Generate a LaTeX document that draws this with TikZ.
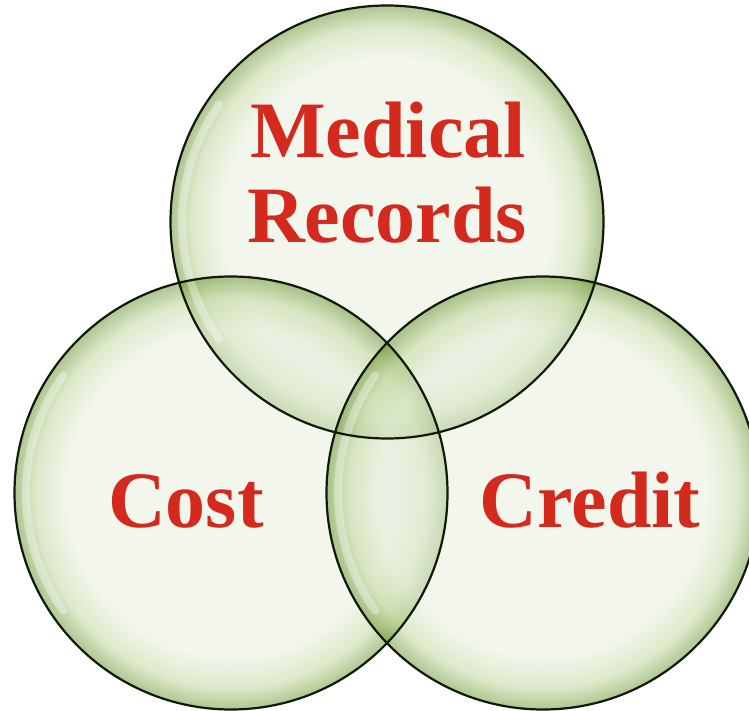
\documentclass[tikz,border=0pt]{standalone}
\usepackage{fontspec}
\setmainfont{Liberation Serif}
\definecolor{glassin}{RGB}{229,237,217}
\definecolor{glassmid}{RGB}{190,212,150}
\definecolor{glassout}{RGB}{95,140,35}
\definecolor{txtred}{RGB}{212,42,30}
\definecolor{rimline}{RGB}{18,24,10}
\pgfdeclareradialshading{glass}{\pgfpoint{0bp}{0bp}}{color(0bp)=(glassin); color(19bp)=(glassin); color(22.5bp)=(glassmid); color(25bp)=(glassout); color(50bp)=(glassout)}
\tikzset{
  bubble/.style={circle, minimum size=433pt, inner sep=0pt, shading=glass, fill opacity=0.5},
  rim/.style={draw=rimline, line width=2.2pt},
  shine/.style={draw=white, line width=8pt, draw opacity=0.35, line cap=round},
  label/.style={anchor=base, text=txtred, font=\fontsize{80}{85}\selectfont\bfseries, inner sep=0pt}
}
\begin{document}
\begin{tikzpicture}[x=1pt,y=-1pt]
\useasboundingbox (0,0) rectangle (749,711);
\clip (0,0) rectangle (749,711);
\node[bubble] (top) at (387,222) {};
\node[bubble] (left) at (231,493) {};
\node[bubble] (right) at (543,493) {};
\draw[shine] (top.center) ++(145:205pt) arc[start angle=145, end angle=215, radius=205pt];
\draw[shine] (left.center) ++(145:205pt) arc[start angle=145, end angle=215, radius=205pt];
\draw[shine] (right.center) ++(145:205pt) arc[start angle=145, end angle=215, radius=205pt];
\draw[rim] (top.center) circle[radius=216.5pt];
\draw[rim] (left.center) circle[radius=216.5pt];
\draw[rim] (right.center) circle[radius=216.5pt];
\node[label] (med) at (388,158) {Medical};
\node[label] (rec) at (387,243) {Records};
\node[label] (cost) at (186,527) {Cost};
\node[label] (cred) at (590,527) {Credit};
\end{tikzpicture}
\end{document}
